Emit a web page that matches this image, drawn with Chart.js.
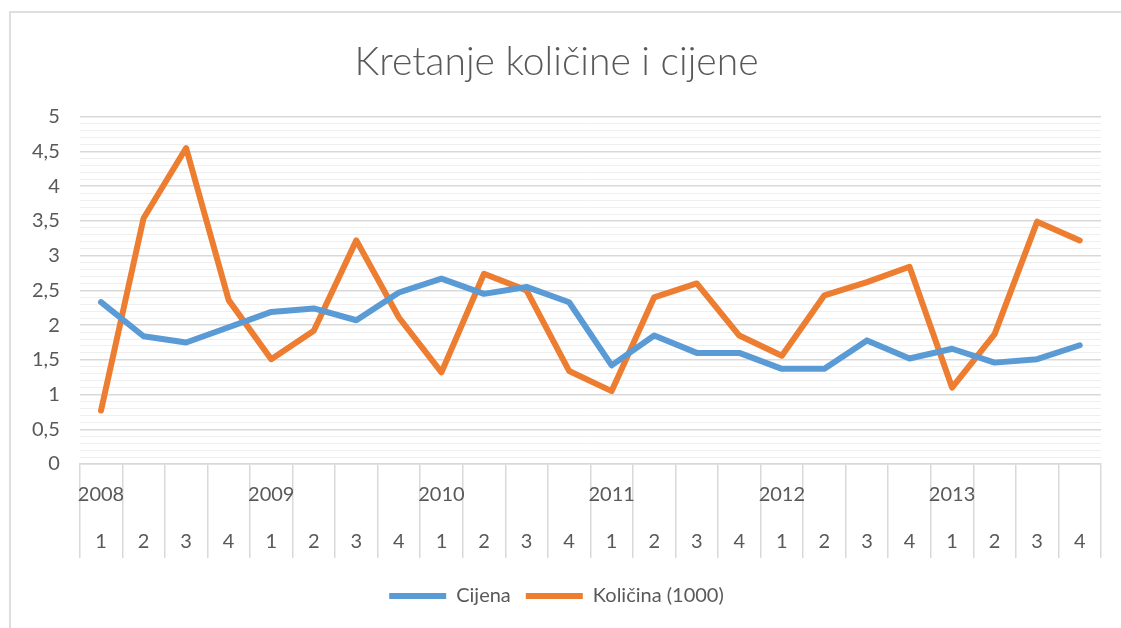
<!DOCTYPE html>
<html>
<head>
<meta charset="utf-8">
<script src="https://cdn.jsdelivr.net/npm/chart.js@4"></script>
<style>
  html, body { margin: 0; padding: 0; background: #fff; overflow: hidden; }
  #frame { position: absolute; left: 9px; top: 11px; width: 1200px; height: 700px;
           border-left: 2px solid #dedede; border-top: 2px solid #dedede; }
  #wrap { position: absolute; left: 0; top: 0; width: 1121px; height: 628px; }
</style>
</head>
<body>
<div id="frame"></div>
<div id="wrap"><canvas id="myChart" width="1121" height="628"></canvas></div>
<script>
const years = ["2008", "2009", "2010", "2011", "2012", "2013"];
const quarters = ["1", "2", "3", "4"];
const cijena = [2.33, 1.84, 1.75, 1.97, 2.19, 2.24, 2.07, 2.47, 2.67, 2.45, 2.55, 2.33,
                1.42, 1.85, 1.60, 1.60, 1.37, 1.37, 1.78, 1.52, 1.66, 1.46, 1.51, 1.71];
const kolicina = [0.77, 3.54, 4.55, 2.36, 1.51, 1.92, 3.22, 2.11, 1.32, 2.74, 2.50, 1.34,
                  1.05, 2.40, 2.60, 1.85, 1.56, 2.43, 2.62, 2.84, 1.10, 1.87, 3.49, 3.22];

// two-row labels: year on the first quarter, quarter number below
const labels = [];
years.forEach(y => quarters.forEach((q, i) => labels.push([i === 0 ? y : "", q])));

const textColor = "#595959";
const isMajor = v => Math.round(v * 10) % 5 === 0;

const ctx = document.getElementById("myChart").getContext("2d");
const myChart = new Chart(ctx, {
  type: "line",
  data: {
    labels: labels,
    datasets: [
      {
        label: "Cijena",
        data: cijena,
        borderColor: "#5b9bd5",
        backgroundColor: "#5b9bd5",
        borderWidth: 6,
        pointRadius: 0,
        borderCapStyle: "round",
        borderJoinStyle: "round",
        tension: 0,
      },
      {
        label: "Količina (1000)",
        data: kolicina,
        borderColor: "#ed7d31",
        backgroundColor: "#ed7d31",
        borderWidth: 6,
        pointRadius: 0,
        borderCapStyle: "round",
        borderJoinStyle: "round",
        tension: 0,
      },
    ],
  },
  options: {
    responsive: false,
    animation: false,
    devicePixelRatio: 1,
    layout: { padding: { left: 12, right: 20, top: 0, bottom: 12 } },
    plugins: {
      title: {
        display: true,
        text: "Kretanje količine i cijene",
        color: textColor,
        font: { family: "Lato", size: 39, weight: "300" },
        padding: { top: 39, bottom: 31 },
      },
      legend: {
        position: "bottom",
        labels: {
          color: textColor,
          font: { family: "Lato", size: 20 },
          usePointStyle: true,
          pointStyle: "line",
          pointStyleWidth: 57,
          padding: 15,
        },
      },
      tooltip: { enabled: false },
    },
    scales: {
      x: {
        offset: true,
        grid: {
          offset: true,
          drawOnChartArea: false,
          drawTicks: true,
          tickLength: 94,
          color: "#d9d9d9",
          lineWidth: 1.5,
        },
        border: { display: true, color: "#d9d9d9", width: 1.5 },
        ticks: {
          color: textColor,
          font: { family: "Lato", size: 20, lineHeight: 47 / 20 },
          padding: -87,
          maxRotation: 0,
          autoSkip: false,
        },
        afterFit: (scale) => { scale.height = 107; },
      },
      y: {
        min: 0,
        max: 5,
        border: { display: false },
        grid: {
          drawTicks: false,
          color: (c) => (isMajor(c.tick.value) ? "#d9d9d9" : "#efefef"),
          lineWidth: (c) => (isMajor(c.tick.value) ? 1.5 : 1),
        },
        ticks: {
          stepSize: 0.1,
          autoSkip: false,
          color: textColor,
          font: { family: "Lato", size: 20 },
          padding: 20,
          callback: (v) => (isMajor(v) ? String(Math.round(v * 10) / 10).replace(".", ",") : ""),
        },
      },
    },
  },
});
</script>
</body>
</html>
